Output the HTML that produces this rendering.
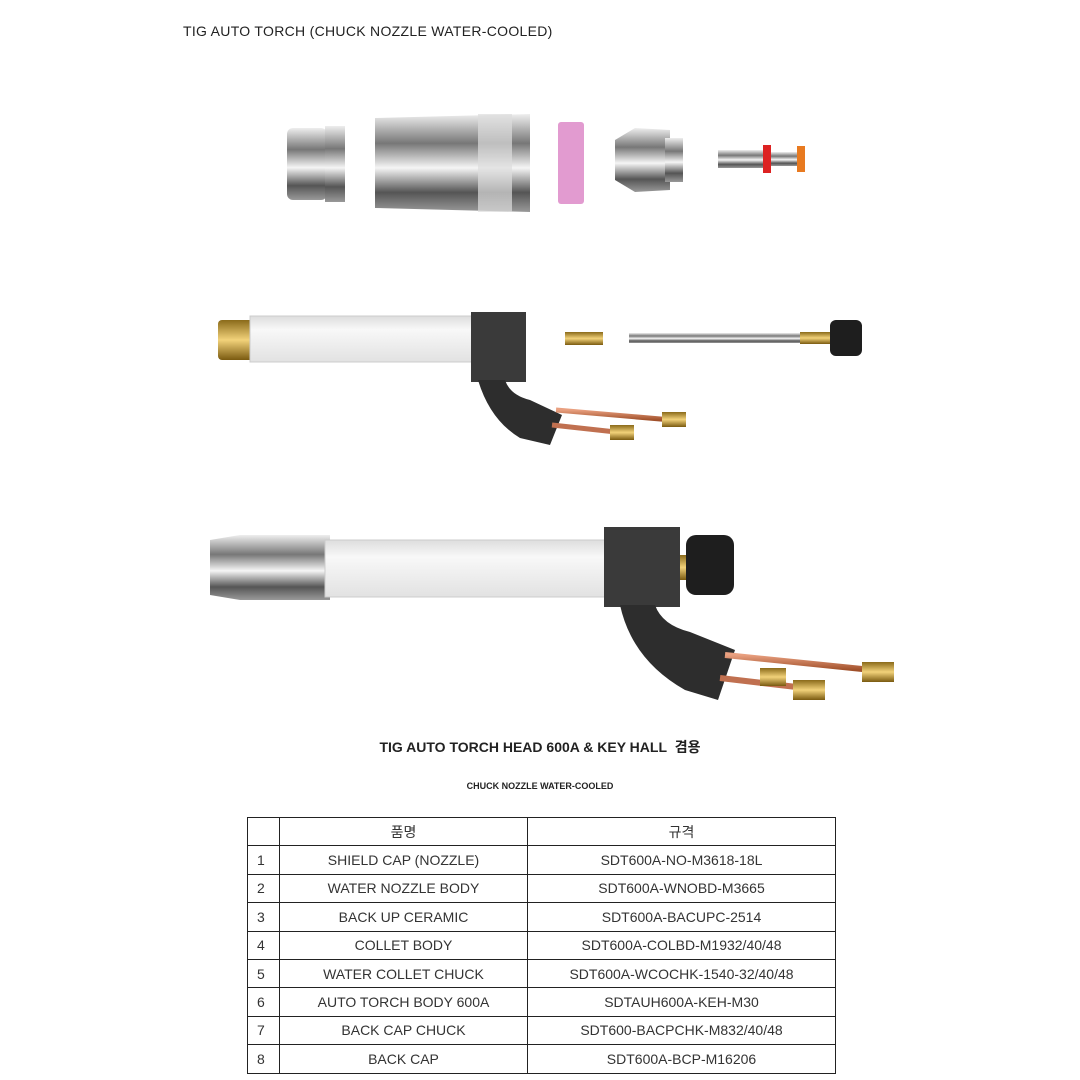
<!DOCTYPE html>
<html><head><meta charset="utf-8"><style>
body{margin:0;background:#fff;}
.w{position:relative;width:1080px;height:1080px;overflow:hidden;font-family:"Liberation Sans","Noto Sans CJK KR",sans-serif;}
.t{position:absolute;color:#222;}
table{position:absolute;left:247px;top:817px;border-collapse:collapse;font-size:14px;color:#333;}
td{border:1px solid #222;height:27.4px;padding:0;text-align:center;}
td:first-child{text-align:left;padding-left:9px;}
</style></head><body><div class="w">
<div class="t" style="left:183px;top:23px;font-size:14px;letter-spacing:0.3px">TIG AUTO TORCH (CHUCK NOZZLE WATER-COOLED)</div>
<svg width="1080" height="1080" style="position:absolute;left:0;top:0">
<defs>
<linearGradient id="m" x1="0" y1="0" x2="0" y2="1"><stop offset="0" stop-color="#eee"/><stop offset=".3" stop-color="#777"/><stop offset=".55" stop-color="#f5f5f5"/><stop offset=".8" stop-color="#555"/><stop offset="1" stop-color="#999"/></linearGradient>
<linearGradient id="wt" x1="0" y1="0" x2="0" y2="1"><stop offset="0" stop-color="#ddd"/><stop offset=".3" stop-color="#f8f8f8"/><stop offset="1" stop-color="#e2e2e2"/></linearGradient>
<linearGradient id="br" x1="0" y1="0" x2="0" y2="1"><stop offset="0" stop-color="#8a6a1a"/><stop offset=".5" stop-color="#f2d27a"/><stop offset="1" stop-color="#7a5a10"/></linearGradient>
<linearGradient id="cu" x1="0" y1="0" x2="0" y2="1"><stop offset="0" stop-color="#e9a080"/><stop offset="1" stop-color="#a0502a"/></linearGradient>
</defs>
<!-- top parts -->
<rect x="287" y="128" width="40" height="72" rx="6" fill="url(#m)"/>
<rect x="325" y="126" width="20" height="76" fill="url(#m)"/>
<path d="M375 118 L530 114 L530 212 L375 208 Z" fill="url(#m)"/>
<rect x="478" y="114" width="34" height="98" fill="#ddd" opacity=".7"/>
<rect x="558" y="122" width="26" height="82" rx="3" fill="#e29bd0"/>
<path d="M615 140 L635 128 L670 130 L670 190 L635 192 L615 180 Z" fill="url(#m)"/>
<rect x="665" y="138" width="18" height="44" fill="url(#m)"/>
<rect x="718" y="150" width="45" height="18" fill="url(#m)"/>
<rect x="763" y="145" width="8" height="28" fill="#d22"/>
<rect x="771" y="152" width="26" height="14" fill="url(#m)"/>
<rect x="797" y="146" width="8" height="26" fill="#e87a20"/>
<!-- torch 1 -->
<rect x="218" y="320" width="36" height="40" rx="4" fill="url(#br)"/>
<rect x="250" y="316" width="222" height="46" fill="url(#wt)" stroke="#ccc"/>
<rect x="471" y="312" width="55" height="70" fill="#3a3a3a"/>
<path d="M478 380 L505 380 Q510 395 530 400 L562 415 L550 445 L520 438 Q490 420 478 380Z" fill="#2d2d2d"/>
<line x1="556" y1="410" x2="672" y2="420" stroke="url(#cu)" stroke-width="5"/>
<line x1="552" y1="425" x2="625" y2="433" stroke="#c07050" stroke-width="5"/>
<rect x="662" y="412" width="24" height="15" fill="url(#br)"/>
<rect x="610" y="425" width="24" height="15" fill="url(#br)"/>
<rect x="565" y="332" width="38" height="13" fill="url(#br)"/>
<rect x="629" y="333" width="195" height="10" fill="url(#m)"/>
<rect x="800" y="332" width="30" height="12" fill="url(#br)"/>
<rect x="830" y="320" width="32" height="36" rx="6" fill="#1e1e1e"/>
<!-- torch 2 -->
<path d="M210 540 L240 535 L330 535 L330 600 L240 600 L210 595 Z" fill="url(#m)"/>
<rect x="325" y="540" width="282" height="57" fill="url(#wt)" stroke="#ccc"/>
<rect x="604" y="527" width="76" height="80" fill="#3a3a3a"/>
<rect x="680" y="555" width="10" height="25" fill="url(#br)"/>
<rect x="686" y="535" width="48" height="60" rx="10" fill="#1e1e1e"/>
<path d="M620 605 L655 605 Q662 625 690 632 L735 650 L718 700 L685 690 Q632 660 620 605Z" fill="#2d2d2d"/>
<line x1="725" y1="655" x2="872" y2="670" stroke="url(#cu)" stroke-width="6"/>
<line x1="720" y1="678" x2="805" y2="688" stroke="#c07050" stroke-width="6"/>
<rect x="862" y="662" width="32" height="20" fill="url(#br)"/>
<rect x="793" y="680" width="32" height="20" fill="url(#br)"/>
<rect x="760" y="668" width="26" height="18" fill="url(#br)"/>
</svg>
<div class="t" style="left:0;width:1080px;text-align:center;top:737px;font-size:14px;font-weight:bold;">TIG AUTO TORCH HEAD 600A &amp; KEY HALL&nbsp; 겸용</div>
<div class="t" style="left:0;width:1080px;text-align:center;top:781px;font-size:9px;font-weight:bold;">CHUCK NOZZLE WATER-COOLED</div>
<table>
<tr><td style="width:22px"></td><td style="width:247px">품명</td><td style="width:307px">규격</td></tr>
<tr><td>1</td><td>SHIELD CAP (NOZZLE)</td><td>SDT600A-NO-M3618-18L</td></tr>
<tr><td>2</td><td>WATER NOZZLE BODY</td><td>SDT600A-WNOBD-M3665</td></tr>
<tr><td>3</td><td>BACK UP CERAMIC</td><td>SDT600A-BACUPC-2514</td></tr>
<tr><td>4</td><td>COLLET BODY</td><td>SDT600A-COLBD-M1932/40/48</td></tr>
<tr><td>5</td><td>WATER COLLET CHUCK</td><td>SDT600A-WCOCHK-1540-32/40/48</td></tr>
<tr><td>6</td><td>AUTO TORCH BODY 600A</td><td>SDTAUH600A-KEH-M30</td></tr>
<tr><td>7</td><td>BACK CAP CHUCK</td><td>SDT600-BACPCHK-M832/40/48</td></tr>
<tr><td>8</td><td>BACK CAP</td><td>SDT600A-BCP-M16206</td></tr>
</table>
</div></body></html>
